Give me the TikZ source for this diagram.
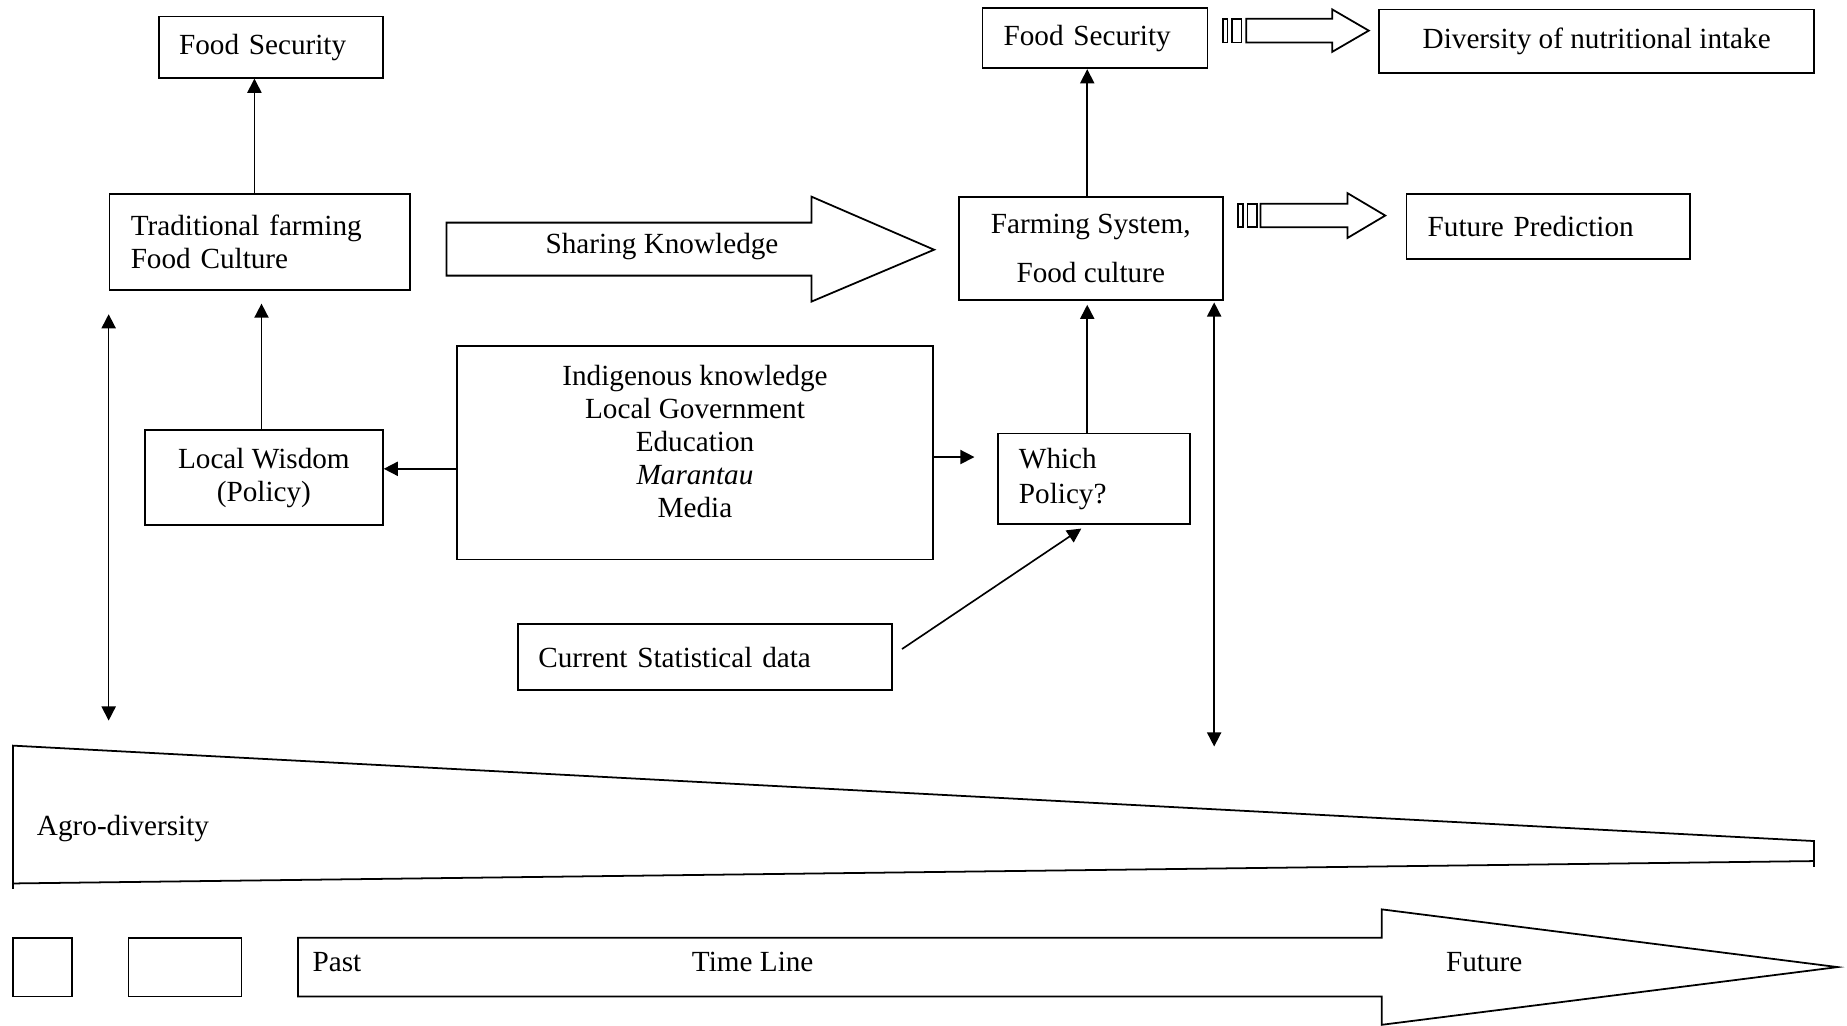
\documentclass[tikz,border=0pt]{standalone}
\usepackage{fontspec}
\setmainfont{Liberation Serif}
\usetikzlibrary{arrows.meta,calc}
\newcommand\diagfont{\fontsize{12.4}{14}\selectfont}
\begin{document}
\begin{tikzpicture}[x=0.5pt,y=-0.5pt,
  box/.style={draw,line width=0.75pt,inner sep=0pt,font=\diagfont},
  lbox/.style={box,align=left,text width=#1},
  cbox/.style={box,align=center},
  txt/.style={inner sep=0pt,font=\diagfont},
  outl/.style={draw,line width=0.75pt,line join=miter},
  arr/.style={-{Triangle[length=6pt,width=6pt]},line width=0.7pt},
  darr/.style={{Triangle[length=6pt,width=6pt]}-{Triangle[length=6pt,width=6pt]},line width=0.7pt}
]
\useasboundingbox (0,0) rectangle (1568,871);

% --- left column: past ---
\node[lbox=78pt,minimum width=95pt,minimum height=26pt] (fs1) at (230,40) {Food Security};
\node[lbox=109.5pt,minimum width=127.5pt,minimum height=40.5pt] (tf) at (220.5,205.5)
  {Traditional farming\\Food Culture};
\node[cbox,minimum width=101pt,minimum height=40.5pt] (lw) at (224,405.5)
  {Local Wisdom\\(Policy)};

% --- central sources box ---
\node[box,minimum width=202pt,minimum height=90.5pt] (cen) at (590,384.5) {};
\node[txt,align=center] (centxt) at (590,375)
  {Indigenous knowledge\\Local Government\\Education\\\textit{Marantau}\\Media};

\node[lbox=141.5pt,minimum width=158.5pt,minimum height=28pt] (csd) at (598.5,558)
  {Current Statistical data\\[-3pt]};

% --- right column: present / future ---
\node[lbox=77.5pt,minimum width=95.5pt,minimum height=25.5pt] (fs2) at (929.5,32.5) {Food Security};
\node[cbox,minimum width=112pt,minimum height=44pt] (fm) at (926,211)
  {Farming System,\\[7pt]Food culture};
\node[lbox=63.5pt,minimum width=81.5pt,minimum height=38.5pt] (wp) at (928.5,406.5)
  {Which\\[1pt]Policy?};
\node[cbox,minimum width=184.5pt,minimum height=27pt] (div) at (1355.5,35)
  {Diversity of nutritional intake};
\node[lbox=102.5pt,minimum width=120.5pt,minimum height=27.5pt] (fp) at (1314.5,192.5)
  {Future Prediction};

% --- sharing knowledge block arrow ---
\draw[outl] (379,189) -- (689,189) -- (689,167) -- (793,212) -- (689,256) -- (689,234) -- (379,234) -- cycle;
\node[txt] (share) at (562,209) {Sharing Knowledge};

% --- striped block arrows ---
\draw[outl] (1038,16) rectangle (1042,36);
\draw[outl] (1046,16) rectangle (1054,36);
\draw[outl] (1058,16) -- (1131,16) -- (1131,8) -- (1162,26) -- (1131,44) -- (1131,36) -- (1058,36) -- cycle;
\draw[outl] (1051,173) rectangle (1055,193);
\draw[outl] (1059,173) rectangle (1067,193);
\draw[outl] (1070,173) -- (1144,173) -- (1144,164) -- (1176,183) -- (1144,202) -- (1144,193) -- (1070,193) -- cycle;

% --- connectors ---
\draw[arr] ($(tf.north)+(-4.5,0)$) coordinate (t1) -- (t1 |- fs1.south);
\draw[arr] ($(lw.north)+(-2,0)$) coordinate (l1) -- ($(l1 |- tf.south)+(0,11)$);
\draw[arr] ($(cen.west)+(0,13.5)$) coordinate (cw) -- (cw -| lw.east);
\draw[arr,shorten >=9.5pt] ($(cen.east)+(0,3.5)$) coordinate (ce) -- (ce -| wp.west);
\draw[arr,shorten >=1.5pt] ($(wp.north)+(-5.5,0)$) coordinate (w1) -- (w1 |- fm.south);
\draw[arr] ($(fm.north)+(-3,0)$) coordinate (f1) -- (f1 |- fs2.south);
\draw[arr] ($(csd.east)+(8,-7)$) -- ($(wp.south)+(-10.5,3)$);

\coordinate (ltop) at ($(tf.south west)+(0,20)$);
\coordinate (lbot) at ($(tf.south west)+(0,365)$);
\draw[darr] (ltop) -- (lbot);
\coordinate (rtop) at ($(fm.south east)+(-8,1)$);
\coordinate (rbot) at ($(fm.south east)+(-8,378)$);
\draw[darr] (rtop) -- (rbot);

% --- agro-diversity wedge ---
\draw[outl] (11,633) -- (1540,714) -- (1540,731) -- (11,750) -- cycle;
\draw[line width=0.75pt] (11,750) -- (11,755) (1540,731) -- (1540,736);
\node[txt,anchor=west] (agro) at (31,703) {Agro-diversity};

% --- time line ---
\draw[outl] (11,796) rectangle (61,846);
\draw[outl] (109,796) rectangle (205,846);
\draw[outl] (253,796) -- (1173,796) -- (1173,772) -- (1560,821) -- (1173,870) -- (1173,846) -- (253,846) -- cycle;
\node[txt,anchor=west] (past) at (265,817) {Past};
\node[txt] (tline) at (639,817) {Time Line};
\node[txt] (future) at (1260,817) {Future};
\end{tikzpicture}
\end{document}
